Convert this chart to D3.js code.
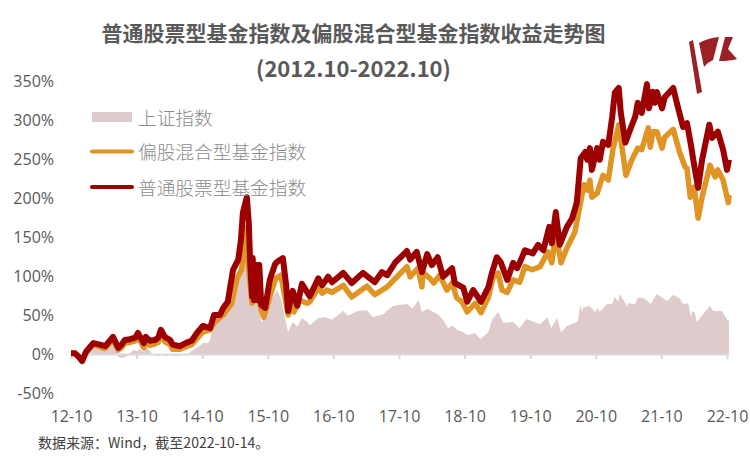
<!DOCTYPE html>
<html><head><meta charset="utf-8">
<script src="https://cdn.jsdelivr.net/npm/d3@7/dist/d3.min.js"></script>
<style>html,body{margin:0;padding:0;background:#fff}svg{display:block}</style>
</head><body><svg id="c" width="750" height="462"></svg>
<script>
// years since 2012-10, and cumulative return in %
const yTickValues=[-50,0,50,100,150,200,250,300,350];
const xTickLabels=["12-10","13-10","14-10","15-10","16-10","17-10","18-10","19-10","20-10","21-10","22-10"];
const titleLines=["普通股票型基金指数及偏股混合型基金指数收益走势图","(2012.10-2022.10)"];
const legendNames=["上证指数","偏股混合型基金指数","普通股票型基金指数"];
const sourceNote="数据来源：Wind，截至2022-10-14。";

const stockT=[0,.06,.11,.17,.23,.29,.34,.44,.52,.64,.72,.78,.82,.9,.98,1.02,1.11,1.14,1.2,1.28,1.33,1.37,1.43,1.51,1.55,1.66,1.77,1.84,1.92,2.01,2.12,2.18,2.27,2.32,2.39,2.47,2.55,2.59,2.62,2.68,2.71,2.73,2.76,2.77,2.79,2.8,2.82,2.84,2.85,2.87,2.9,2.96,3.03,3.11,3.14,3.23,3.28,3.31,3.38,3.45,3.52,3.64,3.77,3.83,3.92,3.98,4.15,4.28,4.45,4.63,4.74,4.82,4.94,5.12,5.17,5.27,5.35,5.43,5.5,5.59,5.67,5.81,5.85,5.98,6.04,6.13,6.25,6.36,6.42,6.49,6.55,6.65,6.74,6.8,6.84,6.92,7.04,7.12,7.2,7.29,7.33,7.39,7.45,7.56,7.64,7.71,7.77,7.84,7.87,7.91,7.94,8.02,8.06,8.11,8.19,8.25,8.29,8.35,8.38,8.45,8.52,8.6,8.64,8.7,8.78,8.81,8.87,8.9,8.93,9.01,9.05,9.18,9.25,9.33,9.39,9.45,9.5,9.56,9.62,9.73,9.77,9.86,9.94,10,10.03];
const stockV=[1,1,-3,-9,3,9,14,12,10,22,8,13,18,19,21,27,14,22,17,18,21,31,22,18,12,10,15,17,27,36,33,50,50,59,67,108,121,146,181,201,168,120,74,123,69,114,76,114,69,114,63,59,95,115,118,123,88,55,81,62,90,74,97,88,99,92,104,91,104,92,105,101,117,132,121,131,105,128,114,124,99,110,91,85,67,82,67,85,105,124,118,95,117,110,117,133,129,140,133,163,142,182,140,163,174,194,251,259,249,264,236,264,249,272,268,304,335,341,310,271,287,304,322,309,346,315,336,322,336,315,329,341,317,291,296,268,242,213,249,294,277,285,262,236,249];

const mixedT=[0,.06,.11,.17,.23,.29,.34,.44,.52,.64,.72,.78,.82,.9,.98,1.02,1.11,1.14,1.2,1.28,1.33,1.37,1.43,1.51,1.55,1.66,1.77,1.84,1.92,2.01,2.12,2.19,2.32,2.45,2.53,2.6,2.66,2.68,2.76,2.8,2.85,2.9,2.94,3.03,3.12,3.2,3.26,3.31,3.37,3.4,3.49,3.6,3.64,3.77,3.83,3.9,3.98,4.15,4.28,4.51,4.63,4.82,4.97,5.12,5.17,5.29,5.35,5.36,5.47,5.53,5.62,5.73,5.81,5.88,5.96,6.04,6.16,6.25,6.36,6.43,6.51,6.57,6.65,6.74,6.84,6.92,7.03,7.15,7.27,7.33,7.39,7.47,7.56,7.68,7.76,7.82,7.87,7.91,7.94,8.02,8.11,8.19,8.26,8.35,8.4,8.46,8.55,8.64,8.7,8.8,8.83,8.87,8.93,9.01,9.05,9.18,9.28,9.36,9.39,9.44,9.5,9.56,9.62,9.74,9.82,9.86,9.94,10.02,10.03];
const mixedV=[1,1,-3,-9,2,8,12,9,7,19,5,9,14,15,17,22,8,15,11,13,15,25,16,12,6,6,10,12,20,28,31,41,50,65,97,108,162,133,65,86,76,56,47,73,97,101,73,50,63,54,69,65,67,85,78,82,79,88,73,87,76,86,99,112,99,110,86,105,97,91,101,82,91,72,67,54,65,53,72,97,104,82,79,95,92,112,108,112,131,117,155,117,136,156,191,217,210,223,201,206,229,223,262,294,264,229,249,264,262,290,265,285,285,264,278,288,258,240,238,201,214,174,201,242,227,236,223,194,204];

const indexT=[0,.14,.23,.34,.44,.53,.64,.7,.72,.78,.85,.9,.95,1,1.05,1.1,1.16,1.2,1.25,1.33,1.39,1.43,1.51,1.59,1.66,1.77,1.81,1.86,1.97,2.01,2.09,2.12,2.16,2.32,2.45,2.53,2.6,2.66,2.69,2.73,2.77,2.8,2.84,2.9,2.96,3.03,3.08,3.14,3.19,3.23,3.31,3.38,3.45,3.52,3.6,3.64,3.77,3.87,3.98,4.15,4.22,4.37,4.51,4.6,4.76,4.91,5.12,5.2,5.3,5.35,5.43,5.59,5.67,5.75,5.81,5.88,5.98,6.04,6.16,6.24,6.36,6.42,6.51,6.59,6.74,6.84,6.94,7.15,7.26,7.32,7.41,7.47,7.56,7.73,7.76,7.79,7.8,7.9,7.99,8.03,8.06,8.17,8.25,8.29,8.34,8.37,8.48,8.49,8.6,8.64,8.72,8.8,8.84,8.93,9.01,9.09,9.18,9.28,9.33,9.41,9.45,9.47,9.51,9.54,9.59,9.74,9.79,9.92,10.02,10.03];
const indexV=[0,0,3,8,5,5,15,4,-4,-5,-3,1,5,4,6,3,8,4,-1,-3,0,-3,-1,-3,-2,-1,2,5,11,14,14,18,37,46,65,88,108,129,114,86,73,88,76,41,46,65,73,82,73,59,28,41,35,46,41,37,46,47,44,55,49,55,56,47,51,62,64,58,69,54,58,51,44,33,37,31,28,24,27,19,28,44,54,40,41,33,45,38,47,33,46,28,36,42,63,54,59,62,54,59,54,64,64,73,67,77,60,65,64,72,72,67,64,77,72,68,76,71,64,65,47,55,53,41,46,62,55,55,42,44];

const svg=d3.select("#c");
const latin='"Open Sans","Noto Sans CJK SC",sans-serif';
const cjk='"Noto Sans CJK SC","Noto Sans",sans-serif';
const x=d3.scaleLinear().domain([0,10]).range([71,727]);
const y=d3.scaleLinear().domain([-50,350]).range([393,81]);
const zip=(t,v)=>t.map((d,i)=>[d,v[i]]);

// Shanghai index area
svg.append("path").datum(zip(indexT,indexV))
  .attr("fill","#dfcbcc")
  .attr("d",d3.area().x(d=>x(d[0])).y0(y(0)).y1(d=>y(d[1])));

// x axis
const xAxis=d3.axisBottom(x).tickValues(d3.range(11)).tickFormat(i=>xTickLabels[i]).tickSize(5).tickSizeOuter(0);
const gx=svg.append("g").attr("transform",`translate(0,${y(0)})`).call(xAxis);
gx.select(".domain").attr("stroke","#d9d9d9").attr("stroke-width",2);
gx.selectAll(".tick line").attr("stroke","#d9d9d9").attr("stroke-width",2);
gx.selectAll("text").attr("y",0).attr("dy",null).attr("transform",`translate(0,${416-y(0)})`)
  .attr("dominant-baseline","central").attr("fill","#595959").style("font","16px "+latin);

// y axis
const gy=svg.append("g").attr("transform","translate(54,-1)")
  .call(d3.axisLeft(y).tickValues(yTickValues).tickFormat(d=>d+"%").tickSize(0).tickPadding(0));
gy.select(".domain").remove();
gy.selectAll("text").attr("dy",null).attr("dominant-baseline","central").attr("fill","#595959").style("font","16px "+latin);

// lines
const line=d3.line().x(d=>x(d[0])).y(d=>y(d[1]));
svg.append("path").datum(zip(mixedT,mixedV)).attr("fill","none").attr("stroke","#e09424").attr("stroke-width",5.5).attr("stroke-linejoin","round").attr("d",line);
svg.append("path").datum(zip(stockT,stockV)).attr("fill","none").attr("stroke","#9c0000").attr("stroke-width",6).attr("stroke-linejoin","round").attr("d",line);

// title
svg.selectAll(".t").data(titleLines).join("text").attr("class","t")
  .attr("x",353.5).attr("y",(d,i)=>i?67:32).attr("text-anchor","middle").attr("dominant-baseline","central")
  .attr("fill","#595959").style("font",(d,i)=>"bold "+(i?22:21)+"px "+cjk).text(d=>d);

// legend
const legY=[116,150.5,186];
const legMark=[117,151.5,187];
svg.append("rect").attr("x",92).attr("y",112).attr("width",40).attr("height",10).attr("fill","#dfcbcc");
[["#e09424",1],["#9c0000",2]].forEach(([c,i])=>svg.append("line").attr("x1",92).attr("x2",132).attr("y1",legMark[i]).attr("y2",legMark[i]).attr("stroke",c).attr("stroke-width",4).attr("stroke-linecap","round"));
svg.selectAll(".l").data(legendNames).join("text").attr("class","l")
  .attr("x",138).attr("y",(d,i)=>legY[i]).attr("dominant-baseline","central")
  .attr("fill","#8a8a8a").style("font","300 18.7px "+cjk).text(d=>d);

// source
svg.append("text").attr("x",38).attr("y",441.5).attr("dominant-baseline","central")
  .attr("fill","#404040").style("font","14px "+cjk).text(sourceNote);

// flag ornament
const flag=svg.append("g").attr("fill","#9a2227");
flag.append("path").attr("d","M689 42 L693 40 L702 92 L697 94 Z");
flag.append("path").attr("d","M699 43 Q708 38 719 37 L713 60 Q708 62 704 67 Z");
flag.append("path").attr("d","M725 37 L733 37 L728 49 L737 59 Q730 61 719 61 Z");
</script></body></html>
